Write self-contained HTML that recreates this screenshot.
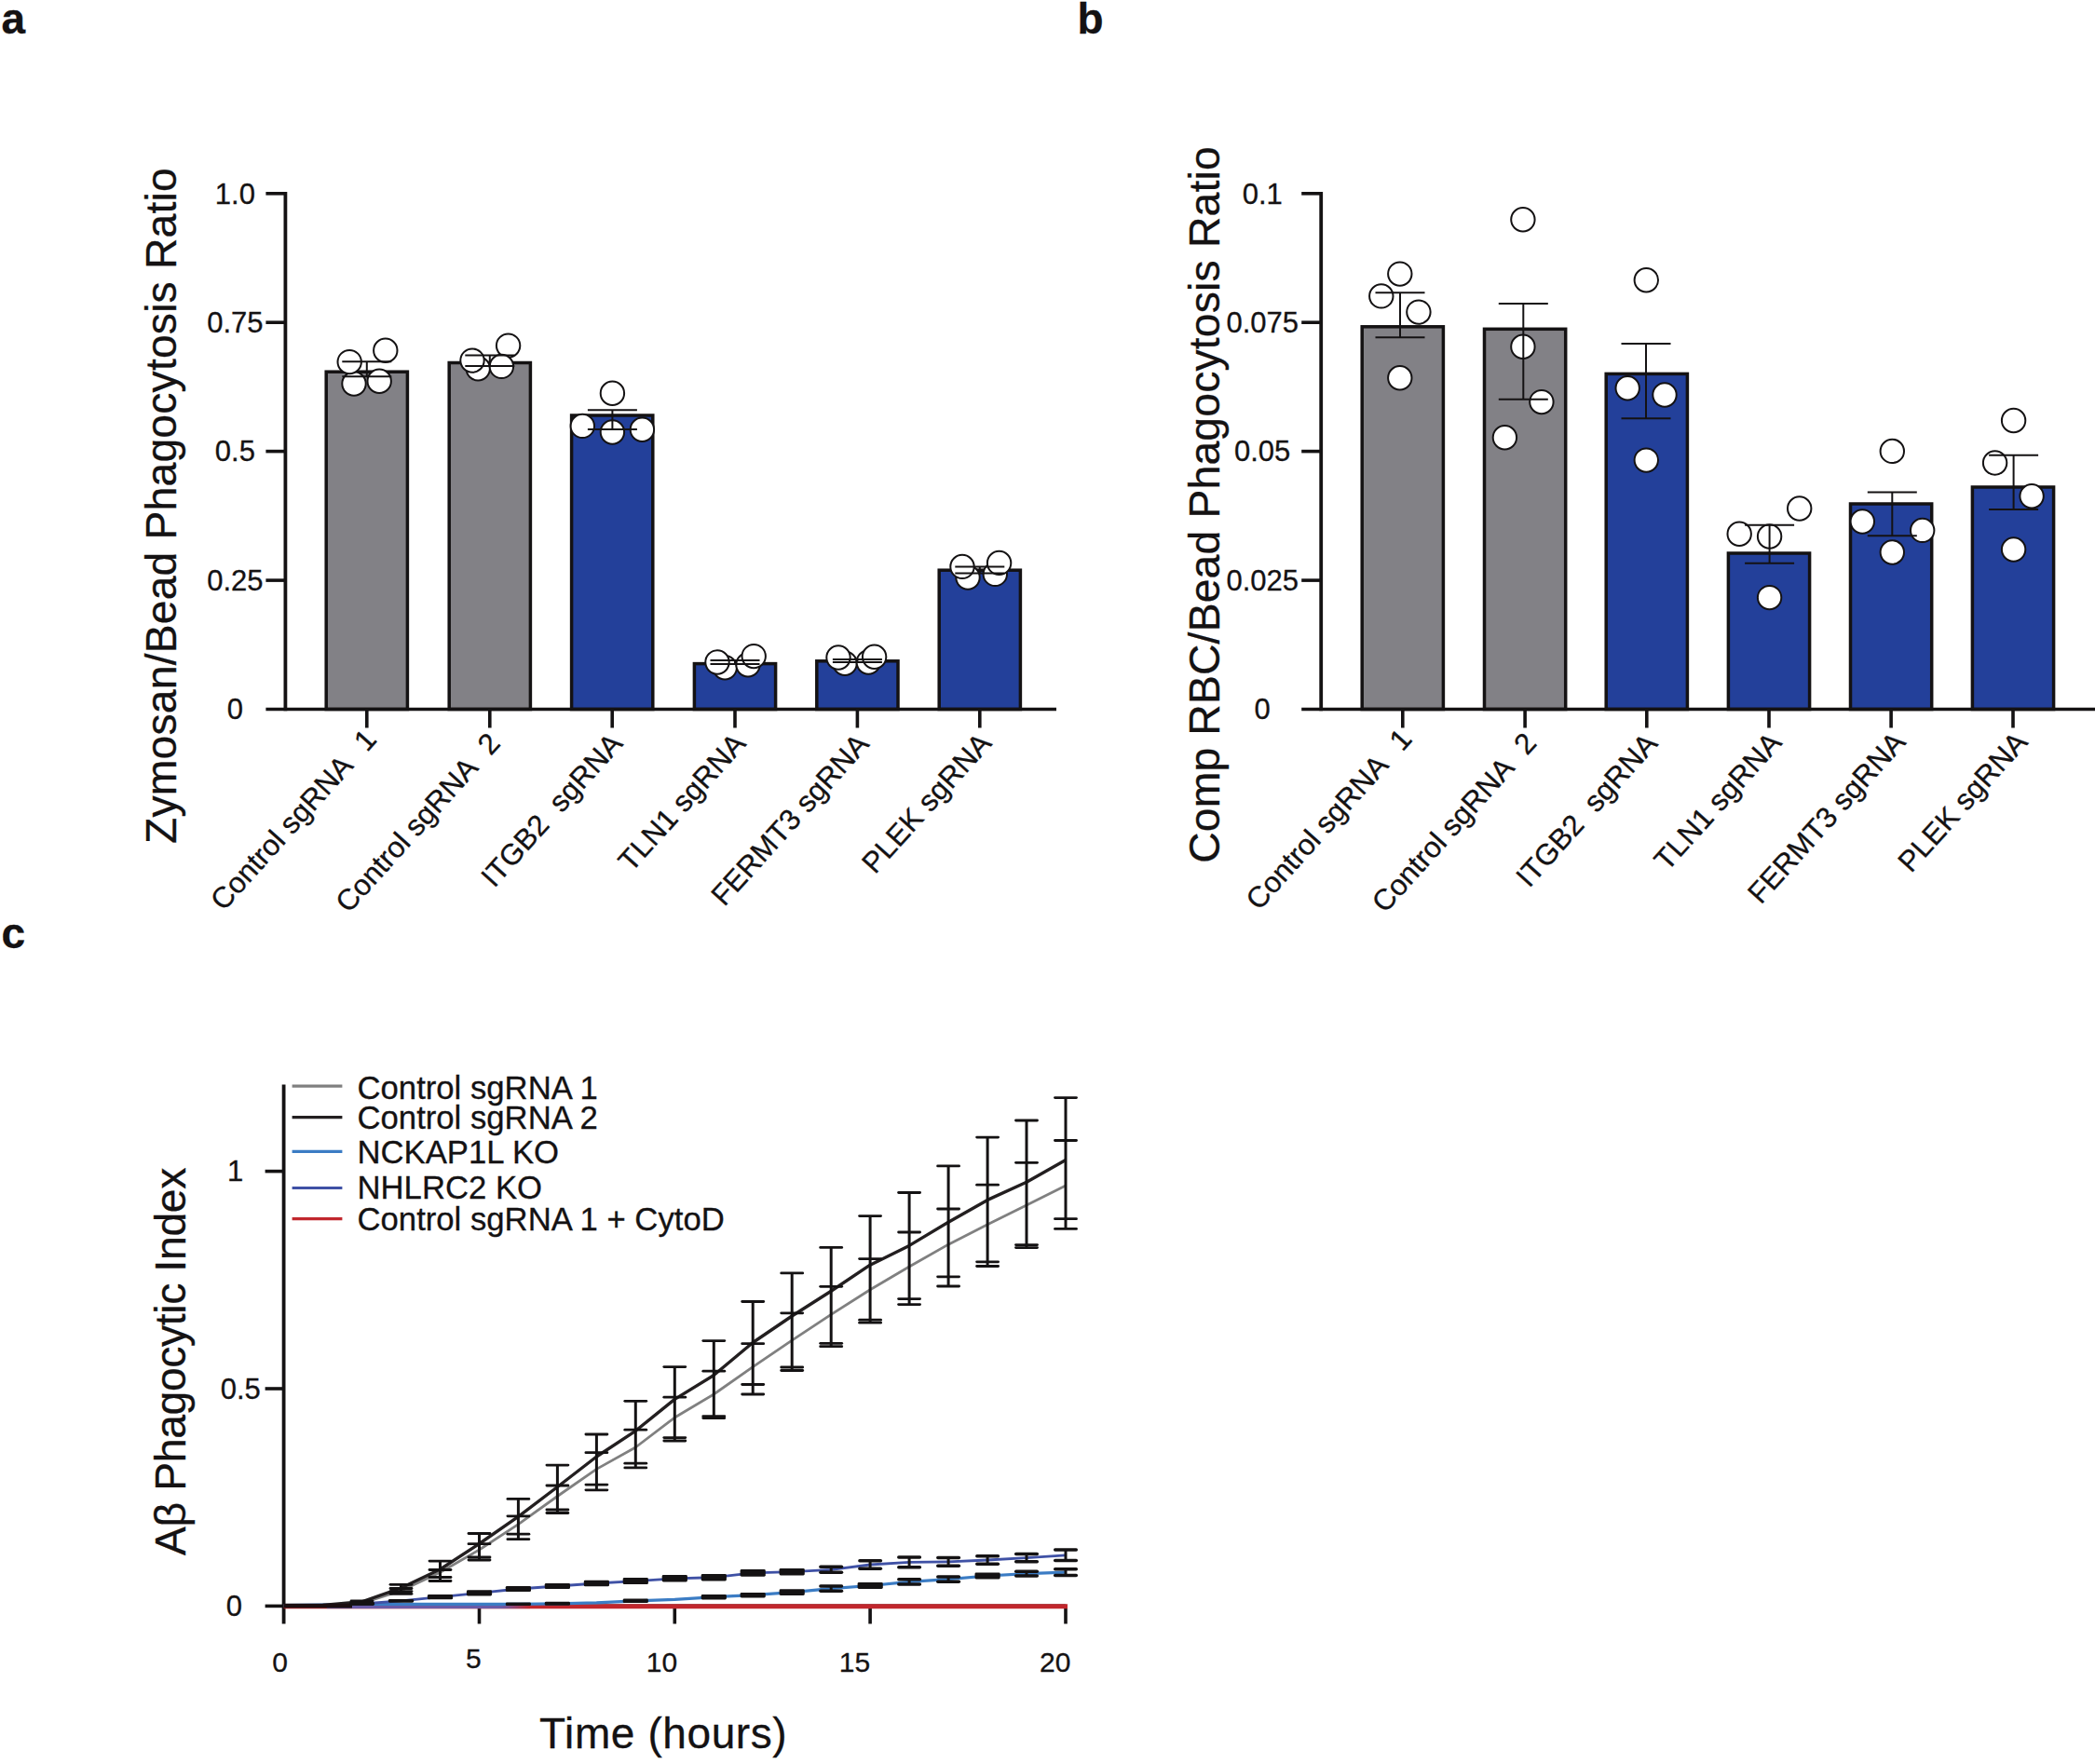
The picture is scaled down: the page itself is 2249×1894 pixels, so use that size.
<!DOCTYPE html>
<html lang="en">
<head>
<meta charset="utf-8">
<title>Phagocytosis figure</title>
<style>
html,body{margin:0;padding:0;background:#fff;}
body{width:2249px;height:1894px;overflow:hidden;}
svg{display:block;}
svg text{font-family:"Liberation Sans", Arial, Helvetica, sans-serif;fill:#141213;stroke:#141213;stroke-width:0.3px;}
</style>
</head>
<body>
<svg width="2249" height="1894" viewBox="0 0 2249 1894">
<rect width="2249" height="1894" fill="#ffffff"/>
<text x="1.5" y="35.5" font-size="46" text-anchor="start" font-weight="bold">a</text>
<text x="1156.5" y="35.5" font-size="46" text-anchor="start" font-weight="bold">b</text>
<text x="1.5" y="1018.0" font-size="46" text-anchor="start" font-weight="bold">c</text>
<rect x="350.2" y="399.2" width="87.2" height="362.3" fill="#828186" stroke="#141213" stroke-width="3.5"/>
<rect x="482.2" y="389.5" width="87.2" height="372.0" fill="#828186" stroke="#141213" stroke-width="3.5"/>
<rect x="613.6" y="446.0" width="87.2" height="315.5" fill="#23409a" stroke="#141213" stroke-width="3.5"/>
<rect x="745.4" y="712.6" width="87.2" height="48.9" fill="#23409a" stroke="#141213" stroke-width="3.5"/>
<rect x="876.8" y="709.8" width="87.2" height="51.7" fill="#23409a" stroke="#141213" stroke-width="3.5"/>
<rect x="1008.2" y="612.2" width="87.2" height="149.3" fill="#23409a" stroke="#141213" stroke-width="3.5"/>
<line x1="306.4" y1="206.0" x2="306.4" y2="763.3" stroke="#141213" stroke-width="3.8" stroke-linecap="butt"/>
<line x1="285.4" y1="761.5" x2="1134.0" y2="761.5" stroke="#141213" stroke-width="3.4" stroke-linecap="butt"/>
<text x="252.4" y="772.2" font-size="31" text-anchor="middle" font-weight="normal">0</text>
<line x1="285.4" y1="623.1" x2="306.4" y2="623.1" stroke="#141213" stroke-width="3.6" stroke-linecap="butt"/>
<text x="252.4" y="633.8" font-size="31" text-anchor="middle" font-weight="normal">0.25</text>
<line x1="285.4" y1="484.6" x2="306.4" y2="484.6" stroke="#141213" stroke-width="3.6" stroke-linecap="butt"/>
<text x="252.4" y="495.3" font-size="31" text-anchor="middle" font-weight="normal">0.5</text>
<line x1="285.4" y1="346.2" x2="306.4" y2="346.2" stroke="#141213" stroke-width="3.6" stroke-linecap="butt"/>
<text x="252.4" y="356.9" font-size="31" text-anchor="middle" font-weight="normal">0.75</text>
<line x1="285.4" y1="207.8" x2="306.4" y2="207.8" stroke="#141213" stroke-width="3.6" stroke-linecap="butt"/>
<text x="252.4" y="218.5" font-size="31" text-anchor="middle" font-weight="normal">1.0</text>
<line x1="393.8" y1="761.5" x2="393.8" y2="781.5" stroke="#141213" stroke-width="3.6" stroke-linecap="butt"/>
<line x1="525.8" y1="761.5" x2="525.8" y2="781.5" stroke="#141213" stroke-width="3.6" stroke-linecap="butt"/>
<line x1="657.2" y1="761.5" x2="657.2" y2="781.5" stroke="#141213" stroke-width="3.6" stroke-linecap="butt"/>
<line x1="789.0" y1="761.5" x2="789.0" y2="781.5" stroke="#141213" stroke-width="3.6" stroke-linecap="butt"/>
<line x1="920.4" y1="761.5" x2="920.4" y2="781.5" stroke="#141213" stroke-width="3.6" stroke-linecap="butt"/>
<line x1="1051.8" y1="761.5" x2="1051.8" y2="781.5" stroke="#141213" stroke-width="3.6" stroke-linecap="butt"/>
<text x="188.5" y="543.0" font-size="46.3" text-anchor="middle" font-weight="normal" transform="rotate(-90 188.5 543.0)" letter-spacing="0.17">Zymosan/Bead Phagocytosis Ratio</text>
<text x="405.8" y="795.1" font-size="31.5" text-anchor="end" font-weight="normal" transform="rotate(-48 405.8 795.1)" xml:space="preserve">Control sgRNA  <tspan dx="4.3">1</tspan></text>
<text x="538.6" y="799.1" font-size="31.5" text-anchor="end" font-weight="normal" transform="rotate(-48 538.6 799.1)" xml:space="preserve">Control sgRNA  <tspan dx="2.2">2</tspan></text>
<text x="669.8" y="799.5" font-size="31.5" text-anchor="end" font-weight="normal" transform="rotate(-48 669.8 799.5)" xml:space="preserve">ITGB2  sgRNA</text>
<text x="802.0" y="799.5" font-size="31.5" text-anchor="end" font-weight="normal" transform="rotate(-48 802.0 799.5)" xml:space="preserve">TLN1 sgRNA</text>
<text x="934.4" y="800.0" font-size="31.5" text-anchor="end" font-weight="normal" transform="rotate(-48 934.4 800.0)" xml:space="preserve">FERMT3 sgRNA</text>
<text x="1065.8" y="799.1" font-size="31.5" text-anchor="end" font-weight="normal" transform="rotate(-48 1065.8 799.1)" xml:space="preserve">PLEK sgRNA</text>
<circle cx="380.0" cy="412.0" r="12.7" fill="#fff" stroke="#141213" stroke-width="2.0"/>
<circle cx="407.2" cy="409.2" r="12.7" fill="#fff" stroke="#141213" stroke-width="2.0"/>
<circle cx="375.2" cy="388.6" r="12.7" fill="#fff" stroke="#141213" stroke-width="2.0"/>
<circle cx="413.8" cy="376.2" r="12.7" fill="#fff" stroke="#141213" stroke-width="2.0"/>
<line x1="393.8" y1="388.3" x2="393.8" y2="404.3" stroke="#141213" stroke-width="2.0" stroke-linecap="butt"/>
<line x1="367.3" y1="388.3" x2="420.3" y2="388.3" stroke="#141213" stroke-width="2.0" stroke-linecap="butt"/>
<line x1="367.3" y1="404.3" x2="420.3" y2="404.3" stroke="#141213" stroke-width="2.0" stroke-linecap="butt"/>
<circle cx="545.6" cy="371.1" r="12.7" fill="#fff" stroke="#141213" stroke-width="2.0"/>
<circle cx="513.2" cy="395.7" r="12.7" fill="#fff" stroke="#141213" stroke-width="2.0"/>
<circle cx="538.4" cy="393.4" r="12.7" fill="#fff" stroke="#141213" stroke-width="2.0"/>
<circle cx="507.0" cy="387.1" r="12.7" fill="#fff" stroke="#141213" stroke-width="2.0"/>
<line x1="525.8" y1="381.4" x2="525.8" y2="392.9" stroke="#141213" stroke-width="2.0" stroke-linecap="butt"/>
<line x1="499.3" y1="381.4" x2="552.3" y2="381.4" stroke="#141213" stroke-width="2.0" stroke-linecap="butt"/>
<line x1="499.3" y1="392.9" x2="552.3" y2="392.9" stroke="#141213" stroke-width="2.0" stroke-linecap="butt"/>
<circle cx="625.3" cy="457.4" r="12.7" fill="#fff" stroke="#141213" stroke-width="2.0"/>
<circle cx="657.4" cy="464.0" r="12.7" fill="#fff" stroke="#141213" stroke-width="2.0"/>
<circle cx="689.4" cy="461.2" r="12.7" fill="#fff" stroke="#141213" stroke-width="2.0"/>
<circle cx="657.4" cy="422.2" r="12.7" fill="#fff" stroke="#141213" stroke-width="2.0"/>
<line x1="657.4" y1="440.3" x2="657.4" y2="461.0" stroke="#141213" stroke-width="2.0" stroke-linecap="butt"/>
<line x1="630.9" y1="440.3" x2="683.9" y2="440.3" stroke="#141213" stroke-width="2.0" stroke-linecap="butt"/>
<line x1="630.9" y1="461.0" x2="683.9" y2="461.0" stroke="#141213" stroke-width="2.0" stroke-linecap="butt"/>
<circle cx="778.2" cy="716.7" r="12.7" fill="#fff" stroke="#141213" stroke-width="2.0"/>
<circle cx="803.0" cy="713.8" r="12.7" fill="#fff" stroke="#141213" stroke-width="2.0"/>
<circle cx="770.0" cy="711.0" r="12.7" fill="#fff" stroke="#141213" stroke-width="2.0"/>
<circle cx="809.2" cy="704.6" r="12.7" fill="#fff" stroke="#141213" stroke-width="2.0"/>
<line x1="789.0" y1="709.0" x2="789.0" y2="713.0" stroke="#141213" stroke-width="2.0" stroke-linecap="butt"/>
<line x1="762.5" y1="709.0" x2="815.5" y2="709.0" stroke="#141213" stroke-width="2.0" stroke-linecap="butt"/>
<line x1="762.5" y1="713.0" x2="815.5" y2="713.0" stroke="#141213" stroke-width="2.0" stroke-linecap="butt"/>
<circle cx="907.0" cy="712.3" r="12.7" fill="#fff" stroke="#141213" stroke-width="2.0"/>
<circle cx="932.3" cy="711.0" r="12.7" fill="#fff" stroke="#141213" stroke-width="2.0"/>
<circle cx="900.0" cy="706.0" r="12.7" fill="#fff" stroke="#141213" stroke-width="2.0"/>
<circle cx="938.6" cy="705.2" r="12.7" fill="#fff" stroke="#141213" stroke-width="2.0"/>
<line x1="920.4" y1="708.0" x2="920.4" y2="711.0" stroke="#141213" stroke-width="2.0" stroke-linecap="butt"/>
<line x1="893.9" y1="708.0" x2="946.9" y2="708.0" stroke="#141213" stroke-width="2.0" stroke-linecap="butt"/>
<line x1="893.9" y1="711.0" x2="946.9" y2="711.0" stroke="#141213" stroke-width="2.0" stroke-linecap="butt"/>
<circle cx="1039.0" cy="620.0" r="12.7" fill="#fff" stroke="#141213" stroke-width="2.0"/>
<circle cx="1068.3" cy="616.4" r="12.7" fill="#fff" stroke="#141213" stroke-width="2.0"/>
<circle cx="1033.0" cy="608.4" r="12.7" fill="#fff" stroke="#141213" stroke-width="2.0"/>
<circle cx="1072.6" cy="604.4" r="12.7" fill="#fff" stroke="#141213" stroke-width="2.0"/>
<line x1="1051.8" y1="608.4" x2="1051.8" y2="615.5" stroke="#141213" stroke-width="2.0" stroke-linecap="butt"/>
<line x1="1025.3" y1="608.4" x2="1078.3" y2="608.4" stroke="#141213" stroke-width="2.0" stroke-linecap="butt"/>
<line x1="1025.3" y1="615.5" x2="1078.3" y2="615.5" stroke="#141213" stroke-width="2.0" stroke-linecap="butt"/>
<rect x="1462.2" y="350.8" width="87.2" height="410.7" fill="#828186" stroke="#141213" stroke-width="3.5"/>
<rect x="1593.5" y="353.3" width="87.2" height="408.2" fill="#828186" stroke="#141213" stroke-width="3.5"/>
<rect x="1724.2" y="401.4" width="87.2" height="360.1" fill="#23409a" stroke="#141213" stroke-width="3.5"/>
<rect x="1855.4" y="594.0" width="87.2" height="167.5" fill="#23409a" stroke="#141213" stroke-width="3.5"/>
<rect x="1986.5" y="541.0" width="87.2" height="220.5" fill="#23409a" stroke="#141213" stroke-width="3.5"/>
<rect x="2117.4" y="523.0" width="87.2" height="238.5" fill="#23409a" stroke="#141213" stroke-width="3.5"/>
<line x1="1418.2" y1="206.0" x2="1418.2" y2="763.3" stroke="#141213" stroke-width="3.8" stroke-linecap="butt"/>
<line x1="1397.2" y1="761.5" x2="2249.0" y2="761.5" stroke="#141213" stroke-width="3.4" stroke-linecap="butt"/>
<text x="1355.2" y="772.2" font-size="31" text-anchor="middle" font-weight="normal">0</text>
<line x1="1397.2" y1="623.1" x2="1418.2" y2="623.1" stroke="#141213" stroke-width="3.6" stroke-linecap="butt"/>
<text x="1355.2" y="633.8" font-size="31" text-anchor="middle" font-weight="normal">0.025</text>
<line x1="1397.2" y1="484.6" x2="1418.2" y2="484.6" stroke="#141213" stroke-width="3.6" stroke-linecap="butt"/>
<text x="1355.2" y="495.3" font-size="31" text-anchor="middle" font-weight="normal">0.05</text>
<line x1="1397.2" y1="346.2" x2="1418.2" y2="346.2" stroke="#141213" stroke-width="3.6" stroke-linecap="butt"/>
<text x="1355.2" y="356.9" font-size="31" text-anchor="middle" font-weight="normal">0.075</text>
<line x1="1397.2" y1="207.8" x2="1418.2" y2="207.8" stroke="#141213" stroke-width="3.6" stroke-linecap="butt"/>
<text x="1355.2" y="218.5" font-size="31" text-anchor="middle" font-weight="normal">0.1</text>
<line x1="1505.8" y1="761.5" x2="1505.8" y2="781.5" stroke="#141213" stroke-width="3.6" stroke-linecap="butt"/>
<line x1="1637.1" y1="761.5" x2="1637.1" y2="781.5" stroke="#141213" stroke-width="3.6" stroke-linecap="butt"/>
<line x1="1767.8" y1="761.5" x2="1767.8" y2="781.5" stroke="#141213" stroke-width="3.6" stroke-linecap="butt"/>
<line x1="1899.0" y1="761.5" x2="1899.0" y2="781.5" stroke="#141213" stroke-width="3.6" stroke-linecap="butt"/>
<line x1="2030.1" y1="761.5" x2="2030.1" y2="781.5" stroke="#141213" stroke-width="3.6" stroke-linecap="butt"/>
<line x1="2161.0" y1="761.5" x2="2161.0" y2="781.5" stroke="#141213" stroke-width="3.6" stroke-linecap="butt"/>
<text x="1309.0" y="542.0" font-size="46.3" text-anchor="middle" font-weight="normal" transform="rotate(-90 1309.0 542.0)" letter-spacing="0.17">Comp RBC/Bead Phagocytosis Ratio</text>
<text x="1517.2" y="794.7" font-size="31.5" text-anchor="end" font-weight="normal" transform="rotate(-48 1517.2 794.7)" xml:space="preserve">Control sgRNA  <tspan dx="4.3">1</tspan></text>
<text x="1651.0" y="799.1" font-size="31.5" text-anchor="end" font-weight="normal" transform="rotate(-48 1651.0 799.1)" xml:space="preserve">Control sgRNA  <tspan dx="2.2">2</tspan></text>
<text x="1780.8" y="799.5" font-size="31.5" text-anchor="end" font-weight="normal" transform="rotate(-48 1780.8 799.5)" xml:space="preserve">ITGB2  sgRNA</text>
<text x="1914.0" y="798.5" font-size="31.5" text-anchor="end" font-weight="normal" transform="rotate(-48 1914.0 798.5)" xml:space="preserve">TLN1 sgRNA</text>
<text x="2047.1" y="797.8" font-size="31.5" text-anchor="end" font-weight="normal" transform="rotate(-48 2047.1 797.8)" xml:space="preserve">FERMT3 sgRNA</text>
<text x="2178.0" y="797.8" font-size="31.5" text-anchor="end" font-weight="normal" transform="rotate(-48 2178.0 797.8)" xml:space="preserve">PLEK sgRNA</text>
<circle cx="1502.8" cy="405.8" r="12.7" fill="#fff" stroke="#141213" stroke-width="2.0"/>
<circle cx="1502.8" cy="294.1" r="12.7" fill="#fff" stroke="#141213" stroke-width="2.0"/>
<circle cx="1482.8" cy="317.9" r="12.7" fill="#fff" stroke="#141213" stroke-width="2.0"/>
<circle cx="1522.9" cy="335.1" r="12.7" fill="#fff" stroke="#141213" stroke-width="2.0"/>
<line x1="1503.0" y1="314.2" x2="1503.0" y2="362.3" stroke="#141213" stroke-width="2.0" stroke-linecap="butt"/>
<line x1="1476.5" y1="314.2" x2="1529.5" y2="314.2" stroke="#141213" stroke-width="2.0" stroke-linecap="butt"/>
<line x1="1476.5" y1="362.3" x2="1529.5" y2="362.3" stroke="#141213" stroke-width="2.0" stroke-linecap="butt"/>
<circle cx="1615.4" cy="469.7" r="12.7" fill="#fff" stroke="#141213" stroke-width="2.0"/>
<circle cx="1634.9" cy="235.7" r="12.7" fill="#fff" stroke="#141213" stroke-width="2.0"/>
<circle cx="1634.9" cy="372.3" r="12.7" fill="#fff" stroke="#141213" stroke-width="2.0"/>
<circle cx="1654.9" cy="431.6" r="12.7" fill="#fff" stroke="#141213" stroke-width="2.0"/>
<line x1="1635.3" y1="325.9" x2="1635.3" y2="428.7" stroke="#141213" stroke-width="2.0" stroke-linecap="butt"/>
<line x1="1608.8" y1="325.9" x2="1661.8" y2="325.9" stroke="#141213" stroke-width="2.0" stroke-linecap="butt"/>
<line x1="1608.8" y1="428.7" x2="1661.8" y2="428.7" stroke="#141213" stroke-width="2.0" stroke-linecap="butt"/>
<circle cx="1767.3" cy="494.1" r="12.7" fill="#fff" stroke="#141213" stroke-width="2.0"/>
<circle cx="1767.3" cy="300.8" r="12.7" fill="#fff" stroke="#141213" stroke-width="2.0"/>
<circle cx="1747.2" cy="416.8" r="12.7" fill="#fff" stroke="#141213" stroke-width="2.0"/>
<circle cx="1787.0" cy="424.0" r="12.7" fill="#fff" stroke="#141213" stroke-width="2.0"/>
<line x1="1767.0" y1="369.0" x2="1767.0" y2="449.2" stroke="#141213" stroke-width="2.0" stroke-linecap="butt"/>
<line x1="1740.5" y1="369.0" x2="1793.5" y2="369.0" stroke="#141213" stroke-width="2.0" stroke-linecap="butt"/>
<line x1="1740.5" y1="449.2" x2="1793.5" y2="449.2" stroke="#141213" stroke-width="2.0" stroke-linecap="butt"/>
<circle cx="1899.6" cy="641.6" r="12.7" fill="#fff" stroke="#141213" stroke-width="2.0"/>
<circle cx="1931.7" cy="546.0" r="12.7" fill="#fff" stroke="#141213" stroke-width="2.0"/>
<circle cx="1867.2" cy="573.2" r="12.7" fill="#fff" stroke="#141213" stroke-width="2.0"/>
<circle cx="1899.6" cy="576.0" r="12.7" fill="#fff" stroke="#141213" stroke-width="2.0"/>
<line x1="1899.6" y1="563.7" x2="1899.6" y2="604.7" stroke="#141213" stroke-width="2.0" stroke-linecap="butt"/>
<line x1="1873.1" y1="563.7" x2="1926.1" y2="563.7" stroke="#141213" stroke-width="2.0" stroke-linecap="butt"/>
<line x1="1873.1" y1="604.7" x2="1926.1" y2="604.7" stroke="#141213" stroke-width="2.0" stroke-linecap="butt"/>
<circle cx="2031.3" cy="593.0" r="12.7" fill="#fff" stroke="#141213" stroke-width="2.0"/>
<circle cx="2031.3" cy="484.4" r="12.7" fill="#fff" stroke="#141213" stroke-width="2.0"/>
<circle cx="1999.3" cy="560.0" r="12.7" fill="#fff" stroke="#141213" stroke-width="2.0"/>
<circle cx="2063.7" cy="569.4" r="12.7" fill="#fff" stroke="#141213" stroke-width="2.0"/>
<line x1="2031.3" y1="528.5" x2="2031.3" y2="575.2" stroke="#141213" stroke-width="2.0" stroke-linecap="butt"/>
<line x1="2004.8" y1="528.5" x2="2057.8" y2="528.5" stroke="#141213" stroke-width="2.0" stroke-linecap="butt"/>
<line x1="2004.8" y1="575.2" x2="2057.8" y2="575.2" stroke="#141213" stroke-width="2.0" stroke-linecap="butt"/>
<circle cx="2161.6" cy="590.0" r="12.7" fill="#fff" stroke="#141213" stroke-width="2.0"/>
<circle cx="2161.6" cy="451.5" r="12.7" fill="#fff" stroke="#141213" stroke-width="2.0"/>
<circle cx="2141.6" cy="497.0" r="12.7" fill="#fff" stroke="#141213" stroke-width="2.0"/>
<circle cx="2181.1" cy="532.8" r="12.7" fill="#fff" stroke="#141213" stroke-width="2.0"/>
<line x1="2161.6" y1="488.7" x2="2161.6" y2="547.1" stroke="#141213" stroke-width="2.0" stroke-linecap="butt"/>
<line x1="2135.1" y1="488.7" x2="2188.1" y2="488.7" stroke="#141213" stroke-width="2.0" stroke-linecap="butt"/>
<line x1="2135.1" y1="547.1" x2="2188.1" y2="547.1" stroke="#141213" stroke-width="2.0" stroke-linecap="butt"/>
<line x1="304.6" y1="1164.6" x2="304.6" y2="1743.5" stroke="#141213" stroke-width="3.8" stroke-linecap="butt"/>
<line x1="284.6" y1="1724.4" x2="304.6" y2="1724.4" stroke="#141213" stroke-width="3.6" stroke-linecap="butt"/>
<text x="251.3" y="1735.1" font-size="31" text-anchor="middle" font-weight="normal">0</text>
<line x1="284.6" y1="1491.0" x2="304.6" y2="1491.0" stroke="#141213" stroke-width="3.6" stroke-linecap="butt"/>
<text x="258.3" y="1501.7" font-size="31" text-anchor="middle" font-weight="normal">0.5</text>
<line x1="284.6" y1="1257.6" x2="304.6" y2="1257.6" stroke="#141213" stroke-width="3.6" stroke-linecap="butt"/>
<text x="252.5" y="1268.3" font-size="31" text-anchor="middle" font-weight="normal">1</text>
<line x1="304.6" y1="1724.4" x2="1144.0" y2="1724.4" stroke="#141213" stroke-width="3.6" stroke-linecap="butt"/>
<line x1="514.5" y1="1724.4" x2="514.5" y2="1743.5" stroke="#141213" stroke-width="3.6" stroke-linecap="butt"/>
<line x1="724.3" y1="1724.4" x2="724.3" y2="1743.5" stroke="#141213" stroke-width="3.6" stroke-linecap="butt"/>
<line x1="934.1" y1="1724.4" x2="934.1" y2="1743.5" stroke="#141213" stroke-width="3.6" stroke-linecap="butt"/>
<line x1="1144.0" y1="1724.4" x2="1144.0" y2="1743.5" stroke="#141213" stroke-width="3.6" stroke-linecap="butt"/>
<text x="300.6" y="1795.2" font-size="30" text-anchor="middle" font-weight="normal">0</text>
<text x="508.4" y="1790.8" font-size="30" text-anchor="middle" font-weight="normal">5</text>
<text x="710.5" y="1795.2" font-size="30" text-anchor="middle" font-weight="normal">10</text>
<text x="917.5" y="1795.2" font-size="30" text-anchor="middle" font-weight="normal">15</text>
<text x="1132.8" y="1795.2" font-size="30" text-anchor="middle" font-weight="normal">20</text>
<text x="712.2" y="1876.6" font-size="46.0" text-anchor="middle" font-weight="normal" letter-spacing="0.6">Time (hours)</text>
<text x="198.5" y="1462.0" font-size="46.3" text-anchor="middle" font-weight="normal" transform="rotate(-90 198.5 1462.0)" letter-spacing="-0.37">Aβ Phagocytic Index</text>
<line x1="313.6" y1="1166.1" x2="367.4" y2="1166.1" stroke="#808080" stroke-width="3.2" stroke-linecap="butt"/>
<text x="383.5" y="1180.0" font-size="34.7" text-anchor="start" font-weight="normal">Control sgRNA 1</text>
<line x1="313.6" y1="1199.6" x2="367.4" y2="1199.6" stroke="#231f20" stroke-width="3.2" stroke-linecap="butt"/>
<text x="383.5" y="1212.0" font-size="34.7" text-anchor="start" font-weight="normal">Control sgRNA 2</text>
<line x1="313.6" y1="1236.3" x2="367.4" y2="1236.3" stroke="#3b7cc4" stroke-width="3.2" stroke-linecap="butt"/>
<text x="383.5" y="1248.6" font-size="34.7" text-anchor="start" font-weight="normal">NCKAP1L KO</text>
<line x1="313.6" y1="1275.5" x2="367.4" y2="1275.5" stroke="#3f51a5" stroke-width="3.2" stroke-linecap="butt"/>
<text x="383.5" y="1287.3" font-size="34.7" text-anchor="start" font-weight="normal">NHLRC2 KO</text>
<line x1="313.6" y1="1308.7" x2="367.4" y2="1308.7" stroke="#c1272d" stroke-width="3.2" stroke-linecap="butt"/>
<text x="383.5" y="1320.8" font-size="34.7" text-anchor="start" font-weight="normal">Control sgRNA 1 + CytoD</text>
<line x1="304.6" y1="1724.7" x2="1146.0" y2="1724.7" stroke="#c1272d" stroke-width="5.0" stroke-linecap="butt"/>
<defs><linearGradient id="pr" x1="0" x2="1" y1="0" y2="0"><stop offset="0" stop-color="#6a5aa6"/><stop offset="0.86" stop-color="#6a5aa6"/><stop offset="1" stop-color="#c1272d"/></linearGradient></defs>
<rect x="350.8" y="1724.0" width="218.2" height="3.1" fill="url(#pr)"/>
<polyline points="304.6,1723.6 346.6,1723.0 388.5,1722.5 430.5,1722.4 472.5,1722.4 514.5,1722.4 556.4,1722.3 598.4,1721.8 640.4,1720.8 682.3,1718.8 724.3,1717.3 766.3,1714.7 808.2,1712.7 850.2,1709.6 892.2,1705.6 934.1,1702.5 976.1,1698.4 1018.1,1695.6 1060.1,1692.0 1102.0,1689.6 1144.0,1688.2" fill="none" stroke="#3b7cc4" stroke-width="3.2" stroke-linejoin="round"/>
<polyline points="304.6,1724.0 346.6,1723.8 388.5,1722.0 430.5,1718.8 472.5,1714.7 514.5,1710.4 556.4,1706.0 598.4,1703.0 640.4,1700.0 682.3,1697.6 724.3,1694.8 766.3,1693.7 808.2,1688.9 850.2,1687.7 892.2,1685.3 934.1,1680.0 976.1,1677.4 1018.1,1676.9 1060.1,1675.0 1102.0,1672.6 1144.0,1669.8" fill="none" stroke="#3f51a5" stroke-width="2.8" stroke-linejoin="round"/>
<polyline points="304.6,1724.0 346.6,1723.8 388.5,1721.5 430.5,1708.0 472.5,1688.2 514.5,1664.0 556.4,1636.7 598.4,1606.5 640.4,1577.4 682.3,1554.0 724.3,1522.0 766.3,1497.0 808.2,1467.6 850.2,1439.2 892.2,1411.4 934.1,1384.8 976.1,1360.0 1018.1,1336.2 1060.1,1314.7 1102.0,1293.9 1144.0,1272.9" fill="none" stroke="#808080" stroke-width="2.8" stroke-linejoin="round"/>
<polyline points="304.6,1724.0 346.6,1723.4 388.5,1719.8 430.5,1705.0 472.5,1685.0 514.5,1657.5 556.4,1628.3 598.4,1596.5 640.4,1564.0 682.3,1536.3 724.3,1502.4 766.3,1476.5 808.2,1441.5 850.2,1413.0 892.2,1386.2 934.1,1358.2 976.1,1337.4 1018.1,1312.3 1060.1,1288.4 1102.0,1269.3 1144.0,1245.5" fill="none" stroke="#231f20" stroke-width="3.4" stroke-linejoin="round"/>
<line x1="304.6" y1="1724.2" x2="378.0" y2="1724.2" stroke="#1c0f11" stroke-width="4.8" stroke-linecap="butt"/>
<line x1="388.5" y1="1718.8" x2="388.5" y2="1722.4" stroke="#141213" stroke-width="3.0" stroke-linecap="butt"/>
<line x1="377.0" y1="1718.8" x2="400.0" y2="1718.8" stroke="#141213" stroke-width="2.8" stroke-linecap="round"/>
<line x1="377.0" y1="1720.6" x2="400.0" y2="1720.6" stroke="#141213" stroke-width="2.8" stroke-linecap="round"/>
<line x1="377.0" y1="1722.4" x2="400.0" y2="1722.4" stroke="#141213" stroke-width="2.8" stroke-linecap="round"/>
<line x1="430.5" y1="1701.3" x2="430.5" y2="1711.3" stroke="#141213" stroke-width="3.0" stroke-linecap="butt"/>
<line x1="419.0" y1="1701.3" x2="442.0" y2="1701.3" stroke="#141213" stroke-width="2.8" stroke-linecap="round"/>
<line x1="419.0" y1="1705.5" x2="442.0" y2="1705.5" stroke="#141213" stroke-width="2.8" stroke-linecap="round"/>
<line x1="419.0" y1="1708.6" x2="442.0" y2="1708.6" stroke="#141213" stroke-width="2.8" stroke-linecap="round"/>
<line x1="419.0" y1="1711.3" x2="442.0" y2="1711.3" stroke="#141213" stroke-width="2.8" stroke-linecap="round"/>
<line x1="472.5" y1="1676.1" x2="472.5" y2="1697.5" stroke="#141213" stroke-width="3.0" stroke-linecap="butt"/>
<line x1="461.0" y1="1676.1" x2="484.0" y2="1676.1" stroke="#141213" stroke-width="2.8" stroke-linecap="round"/>
<line x1="461.0" y1="1685.5" x2="484.0" y2="1685.5" stroke="#141213" stroke-width="2.8" stroke-linecap="round"/>
<line x1="461.0" y1="1693.5" x2="484.0" y2="1693.5" stroke="#141213" stroke-width="2.8" stroke-linecap="round"/>
<line x1="461.0" y1="1697.5" x2="484.0" y2="1697.5" stroke="#141213" stroke-width="2.8" stroke-linecap="round"/>
<line x1="514.5" y1="1646.5" x2="514.5" y2="1675.0" stroke="#141213" stroke-width="3.0" stroke-linecap="butt"/>
<line x1="503.0" y1="1646.5" x2="526.0" y2="1646.5" stroke="#141213" stroke-width="2.8" stroke-linecap="round"/>
<line x1="503.0" y1="1657.7" x2="526.0" y2="1657.7" stroke="#141213" stroke-width="2.8" stroke-linecap="round"/>
<line x1="503.0" y1="1672.0" x2="526.0" y2="1672.0" stroke="#141213" stroke-width="2.8" stroke-linecap="round"/>
<line x1="503.0" y1="1675.0" x2="526.0" y2="1675.0" stroke="#141213" stroke-width="2.8" stroke-linecap="round"/>
<line x1="556.4" y1="1609.4" x2="556.4" y2="1652.7" stroke="#141213" stroke-width="3.0" stroke-linecap="butt"/>
<line x1="544.9" y1="1609.4" x2="567.9" y2="1609.4" stroke="#141213" stroke-width="2.8" stroke-linecap="round"/>
<line x1="544.9" y1="1627.8" x2="567.9" y2="1627.8" stroke="#141213" stroke-width="2.8" stroke-linecap="round"/>
<line x1="544.9" y1="1647.2" x2="567.9" y2="1647.2" stroke="#141213" stroke-width="2.8" stroke-linecap="round"/>
<line x1="544.9" y1="1652.7" x2="567.9" y2="1652.7" stroke="#141213" stroke-width="2.8" stroke-linecap="round"/>
<line x1="598.4" y1="1573.1" x2="598.4" y2="1624.5" stroke="#141213" stroke-width="3.0" stroke-linecap="butt"/>
<line x1="586.9" y1="1573.1" x2="609.9" y2="1573.1" stroke="#141213" stroke-width="2.8" stroke-linecap="round"/>
<line x1="586.9" y1="1595.0" x2="609.9" y2="1595.0" stroke="#141213" stroke-width="2.8" stroke-linecap="round"/>
<line x1="586.9" y1="1621.0" x2="609.9" y2="1621.0" stroke="#141213" stroke-width="2.8" stroke-linecap="round"/>
<line x1="586.9" y1="1624.5" x2="609.9" y2="1624.5" stroke="#141213" stroke-width="2.8" stroke-linecap="round"/>
<line x1="640.4" y1="1540.0" x2="640.4" y2="1599.8" stroke="#141213" stroke-width="3.0" stroke-linecap="butt"/>
<line x1="628.9" y1="1540.0" x2="651.9" y2="1540.0" stroke="#141213" stroke-width="2.8" stroke-linecap="round"/>
<line x1="628.9" y1="1559.7" x2="651.9" y2="1559.7" stroke="#141213" stroke-width="2.8" stroke-linecap="round"/>
<line x1="628.9" y1="1594.1" x2="651.9" y2="1594.1" stroke="#141213" stroke-width="2.8" stroke-linecap="round"/>
<line x1="628.9" y1="1599.8" x2="651.9" y2="1599.8" stroke="#141213" stroke-width="2.8" stroke-linecap="round"/>
<line x1="682.3" y1="1504.3" x2="682.3" y2="1575.9" stroke="#141213" stroke-width="3.0" stroke-linecap="butt"/>
<line x1="670.8" y1="1504.3" x2="693.8" y2="1504.3" stroke="#141213" stroke-width="2.8" stroke-linecap="round"/>
<line x1="670.8" y1="1535.2" x2="693.8" y2="1535.2" stroke="#141213" stroke-width="2.8" stroke-linecap="round"/>
<line x1="670.8" y1="1571.2" x2="693.8" y2="1571.2" stroke="#141213" stroke-width="2.8" stroke-linecap="round"/>
<line x1="670.8" y1="1575.9" x2="693.8" y2="1575.9" stroke="#141213" stroke-width="2.8" stroke-linecap="round"/>
<line x1="724.3" y1="1467.6" x2="724.3" y2="1547.0" stroke="#141213" stroke-width="3.0" stroke-linecap="butt"/>
<line x1="712.8" y1="1467.6" x2="735.8" y2="1467.6" stroke="#141213" stroke-width="2.8" stroke-linecap="round"/>
<line x1="712.8" y1="1500.2" x2="735.8" y2="1500.2" stroke="#141213" stroke-width="2.8" stroke-linecap="round"/>
<line x1="712.8" y1="1543.6" x2="735.8" y2="1543.6" stroke="#141213" stroke-width="2.8" stroke-linecap="round"/>
<line x1="712.8" y1="1547.0" x2="735.8" y2="1547.0" stroke="#141213" stroke-width="2.8" stroke-linecap="round"/>
<line x1="766.3" y1="1439.6" x2="766.3" y2="1522.6" stroke="#141213" stroke-width="3.0" stroke-linecap="butt"/>
<line x1="754.8" y1="1439.6" x2="777.8" y2="1439.6" stroke="#141213" stroke-width="2.8" stroke-linecap="round"/>
<line x1="754.8" y1="1472.2" x2="777.8" y2="1472.2" stroke="#141213" stroke-width="2.8" stroke-linecap="round"/>
<line x1="754.8" y1="1520.6" x2="777.8" y2="1520.6" stroke="#141213" stroke-width="2.8" stroke-linecap="round"/>
<line x1="754.8" y1="1522.6" x2="777.8" y2="1522.6" stroke="#141213" stroke-width="2.8" stroke-linecap="round"/>
<line x1="808.2" y1="1397.5" x2="808.2" y2="1497.0" stroke="#141213" stroke-width="3.0" stroke-linecap="butt"/>
<line x1="796.7" y1="1397.5" x2="819.7" y2="1397.5" stroke="#141213" stroke-width="2.8" stroke-linecap="round"/>
<line x1="796.7" y1="1442.7" x2="819.7" y2="1442.7" stroke="#141213" stroke-width="2.8" stroke-linecap="round"/>
<line x1="796.7" y1="1486.5" x2="819.7" y2="1486.5" stroke="#141213" stroke-width="2.8" stroke-linecap="round"/>
<line x1="796.7" y1="1497.0" x2="819.7" y2="1497.0" stroke="#141213" stroke-width="2.8" stroke-linecap="round"/>
<line x1="850.2" y1="1366.9" x2="850.2" y2="1471.5" stroke="#141213" stroke-width="3.0" stroke-linecap="butt"/>
<line x1="838.7" y1="1366.9" x2="861.7" y2="1366.9" stroke="#141213" stroke-width="2.8" stroke-linecap="round"/>
<line x1="838.7" y1="1409.8" x2="861.7" y2="1409.8" stroke="#141213" stroke-width="2.8" stroke-linecap="round"/>
<line x1="838.7" y1="1468.0" x2="861.7" y2="1468.0" stroke="#141213" stroke-width="2.8" stroke-linecap="round"/>
<line x1="838.7" y1="1471.5" x2="861.7" y2="1471.5" stroke="#141213" stroke-width="2.8" stroke-linecap="round"/>
<line x1="892.2" y1="1339.4" x2="892.2" y2="1445.7" stroke="#141213" stroke-width="3.0" stroke-linecap="butt"/>
<line x1="880.7" y1="1339.4" x2="903.7" y2="1339.4" stroke="#141213" stroke-width="2.8" stroke-linecap="round"/>
<line x1="880.7" y1="1381.3" x2="903.7" y2="1381.3" stroke="#141213" stroke-width="2.8" stroke-linecap="round"/>
<line x1="880.7" y1="1442.3" x2="903.7" y2="1442.3" stroke="#141213" stroke-width="2.8" stroke-linecap="round"/>
<line x1="880.7" y1="1445.7" x2="903.7" y2="1445.7" stroke="#141213" stroke-width="2.8" stroke-linecap="round"/>
<line x1="934.1" y1="1305.6" x2="934.1" y2="1420.2" stroke="#141213" stroke-width="3.0" stroke-linecap="butt"/>
<line x1="922.6" y1="1305.6" x2="945.6" y2="1305.6" stroke="#141213" stroke-width="2.8" stroke-linecap="round"/>
<line x1="922.6" y1="1351.6" x2="945.6" y2="1351.6" stroke="#141213" stroke-width="2.8" stroke-linecap="round"/>
<line x1="922.6" y1="1417.2" x2="945.6" y2="1417.2" stroke="#141213" stroke-width="2.8" stroke-linecap="round"/>
<line x1="922.6" y1="1420.2" x2="945.6" y2="1420.2" stroke="#141213" stroke-width="2.8" stroke-linecap="round"/>
<line x1="976.1" y1="1280.5" x2="976.1" y2="1400.6" stroke="#141213" stroke-width="3.0" stroke-linecap="butt"/>
<line x1="964.6" y1="1280.5" x2="987.6" y2="1280.5" stroke="#141213" stroke-width="2.8" stroke-linecap="round"/>
<line x1="964.6" y1="1323.0" x2="987.6" y2="1323.0" stroke="#141213" stroke-width="2.8" stroke-linecap="round"/>
<line x1="964.6" y1="1394.6" x2="987.6" y2="1394.6" stroke="#141213" stroke-width="2.8" stroke-linecap="round"/>
<line x1="964.6" y1="1400.6" x2="987.6" y2="1400.6" stroke="#141213" stroke-width="2.8" stroke-linecap="round"/>
<line x1="1018.1" y1="1251.9" x2="1018.1" y2="1381.0" stroke="#141213" stroke-width="3.0" stroke-linecap="butt"/>
<line x1="1006.6" y1="1251.9" x2="1029.6" y2="1251.9" stroke="#141213" stroke-width="2.8" stroke-linecap="round"/>
<line x1="1006.6" y1="1298.0" x2="1029.6" y2="1298.0" stroke="#141213" stroke-width="2.8" stroke-linecap="round"/>
<line x1="1006.6" y1="1370.8" x2="1029.6" y2="1370.8" stroke="#141213" stroke-width="2.8" stroke-linecap="round"/>
<line x1="1006.6" y1="1381.0" x2="1029.6" y2="1381.0" stroke="#141213" stroke-width="2.8" stroke-linecap="round"/>
<line x1="1060.1" y1="1221.1" x2="1060.1" y2="1359.5" stroke="#141213" stroke-width="3.0" stroke-linecap="butt"/>
<line x1="1048.6" y1="1221.1" x2="1071.6" y2="1221.1" stroke="#141213" stroke-width="2.8" stroke-linecap="round"/>
<line x1="1048.6" y1="1272.2" x2="1071.6" y2="1272.2" stroke="#141213" stroke-width="2.8" stroke-linecap="round"/>
<line x1="1048.6" y1="1354.8" x2="1071.6" y2="1354.8" stroke="#141213" stroke-width="2.8" stroke-linecap="round"/>
<line x1="1048.6" y1="1359.5" x2="1071.6" y2="1359.5" stroke="#141213" stroke-width="2.8" stroke-linecap="round"/>
<line x1="1102.0" y1="1203.0" x2="1102.0" y2="1339.6" stroke="#141213" stroke-width="3.0" stroke-linecap="butt"/>
<line x1="1090.5" y1="1203.0" x2="1113.5" y2="1203.0" stroke="#141213" stroke-width="2.8" stroke-linecap="round"/>
<line x1="1090.5" y1="1248.3" x2="1113.5" y2="1248.3" stroke="#141213" stroke-width="2.8" stroke-linecap="round"/>
<line x1="1090.5" y1="1336.6" x2="1113.5" y2="1336.6" stroke="#141213" stroke-width="2.8" stroke-linecap="round"/>
<line x1="1090.5" y1="1339.6" x2="1113.5" y2="1339.6" stroke="#141213" stroke-width="2.8" stroke-linecap="round"/>
<line x1="1144.0" y1="1178.6" x2="1144.0" y2="1319.4" stroke="#141213" stroke-width="3.0" stroke-linecap="butt"/>
<line x1="1132.5" y1="1178.6" x2="1155.5" y2="1178.6" stroke="#141213" stroke-width="2.8" stroke-linecap="round"/>
<line x1="1132.5" y1="1224.5" x2="1155.5" y2="1224.5" stroke="#141213" stroke-width="2.8" stroke-linecap="round"/>
<line x1="1132.5" y1="1308.7" x2="1155.5" y2="1308.7" stroke="#141213" stroke-width="2.8" stroke-linecap="round"/>
<line x1="1132.5" y1="1319.4" x2="1155.5" y2="1319.4" stroke="#141213" stroke-width="2.8" stroke-linecap="round"/>
<rect x="374.9" y="1720.3" width="27.2" height="3.4" rx="1.4" fill="#141213"/>
<rect x="416.9" y="1716.9" width="27.2" height="3.8" rx="1.4" fill="#141213"/>
<rect x="458.9" y="1712.1" width="27.2" height="5.2" rx="1.4" fill="#141213"/>
<rect x="500.9" y="1707.3" width="27.2" height="6.2" rx="1.4" fill="#141213"/>
<rect x="542.8" y="1702.9" width="27.2" height="6.2" rx="1.4" fill="#141213"/>
<rect x="584.8" y="1699.9" width="27.2" height="6.2" rx="1.4" fill="#141213"/>
<rect x="626.8" y="1696.7" width="27.2" height="6.6" rx="1.4" fill="#141213"/>
<rect x="668.7" y="1694.1" width="27.2" height="7.0" rx="1.4" fill="#141213"/>
<rect x="710.7" y="1691.1" width="27.2" height="7.4" rx="1.4" fill="#141213"/>
<rect x="752.7" y="1690.0" width="27.2" height="7.4" rx="1.4" fill="#141213"/>
<rect x="794.6" y="1685.1" width="27.2" height="7.6" rx="1.4" fill="#141213"/>
<rect x="836.6" y="1683.9" width="27.2" height="7.6" rx="1.4" fill="#141213"/>
<line x1="892.2" y1="1682.3" x2="892.2" y2="1688.3" stroke="#141213" stroke-width="3.0" stroke-linecap="butt"/>
<line x1="880.9" y1="1682.3" x2="903.5" y2="1682.3" stroke="#141213" stroke-width="3.5" stroke-linecap="round"/>
<line x1="880.9" y1="1688.3" x2="903.5" y2="1688.3" stroke="#141213" stroke-width="3.5" stroke-linecap="round"/>
<line x1="934.1" y1="1675.8" x2="934.1" y2="1684.2" stroke="#141213" stroke-width="3.0" stroke-linecap="butt"/>
<line x1="922.9" y1="1675.8" x2="945.4" y2="1675.8" stroke="#141213" stroke-width="3.5" stroke-linecap="round"/>
<line x1="922.9" y1="1684.2" x2="945.4" y2="1684.2" stroke="#141213" stroke-width="3.5" stroke-linecap="round"/>
<line x1="976.1" y1="1672.1" x2="976.1" y2="1682.7" stroke="#141213" stroke-width="3.0" stroke-linecap="butt"/>
<line x1="964.8" y1="1672.1" x2="987.4" y2="1672.1" stroke="#141213" stroke-width="3.5" stroke-linecap="round"/>
<line x1="964.8" y1="1682.7" x2="987.4" y2="1682.7" stroke="#141213" stroke-width="3.5" stroke-linecap="round"/>
<line x1="1018.1" y1="1672.5" x2="1018.1" y2="1681.3" stroke="#141213" stroke-width="3.0" stroke-linecap="butt"/>
<line x1="1006.8" y1="1672.5" x2="1029.4" y2="1672.5" stroke="#141213" stroke-width="3.5" stroke-linecap="round"/>
<line x1="1006.8" y1="1681.3" x2="1029.4" y2="1681.3" stroke="#141213" stroke-width="3.5" stroke-linecap="round"/>
<line x1="1060.1" y1="1670.8" x2="1060.1" y2="1679.2" stroke="#141213" stroke-width="3.0" stroke-linecap="butt"/>
<line x1="1048.8" y1="1670.8" x2="1071.4" y2="1670.8" stroke="#141213" stroke-width="3.5" stroke-linecap="round"/>
<line x1="1048.8" y1="1679.2" x2="1071.4" y2="1679.2" stroke="#141213" stroke-width="3.5" stroke-linecap="round"/>
<line x1="1102.0" y1="1668.4" x2="1102.0" y2="1676.8" stroke="#141213" stroke-width="3.0" stroke-linecap="butt"/>
<line x1="1090.7" y1="1668.4" x2="1113.3" y2="1668.4" stroke="#141213" stroke-width="3.5" stroke-linecap="round"/>
<line x1="1090.7" y1="1676.8" x2="1113.3" y2="1676.8" stroke="#141213" stroke-width="3.5" stroke-linecap="round"/>
<line x1="1144.0" y1="1664.1" x2="1144.0" y2="1675.5" stroke="#141213" stroke-width="3.0" stroke-linecap="butt"/>
<line x1="1132.7" y1="1664.1" x2="1155.3" y2="1664.1" stroke="#141213" stroke-width="3.5" stroke-linecap="round"/>
<line x1="1132.7" y1="1675.5" x2="1155.3" y2="1675.5" stroke="#141213" stroke-width="3.5" stroke-linecap="round"/>
<rect x="542.8" y="1720.5" width="27.2" height="3.6" rx="1.4" fill="#141213"/>
<rect x="584.8" y="1719.8" width="27.2" height="4.0" rx="1.4" fill="#141213"/>
<rect x="668.7" y="1716.5" width="27.2" height="4.6" rx="1.4" fill="#141213"/>
<rect x="752.7" y="1712.0" width="27.2" height="5.4" rx="1.4" fill="#141213"/>
<rect x="794.6" y="1710.0" width="27.2" height="5.4" rx="1.4" fill="#141213"/>
<rect x="836.6" y="1706.3" width="27.2" height="6.6" rx="1.4" fill="#141213"/>
<line x1="892.2" y1="1703.0" x2="892.2" y2="1708.2" stroke="#141213" stroke-width="3.0" stroke-linecap="butt"/>
<line x1="880.9" y1="1703.0" x2="903.5" y2="1703.0" stroke="#141213" stroke-width="3.5" stroke-linecap="round"/>
<line x1="880.9" y1="1708.2" x2="903.5" y2="1708.2" stroke="#141213" stroke-width="3.5" stroke-linecap="round"/>
<rect x="920.6" y="1699.0" width="27.2" height="7.0" rx="1.4" fill="#141213"/>
<line x1="976.1" y1="1695.8" x2="976.1" y2="1701.0" stroke="#141213" stroke-width="3.0" stroke-linecap="butt"/>
<line x1="964.8" y1="1695.8" x2="987.4" y2="1695.8" stroke="#141213" stroke-width="3.5" stroke-linecap="round"/>
<line x1="964.8" y1="1701.0" x2="987.4" y2="1701.0" stroke="#141213" stroke-width="3.5" stroke-linecap="round"/>
<line x1="1018.1" y1="1693.0" x2="1018.1" y2="1698.2" stroke="#141213" stroke-width="3.0" stroke-linecap="butt"/>
<line x1="1006.8" y1="1693.0" x2="1029.4" y2="1693.0" stroke="#141213" stroke-width="3.5" stroke-linecap="round"/>
<line x1="1006.8" y1="1698.2" x2="1029.4" y2="1698.2" stroke="#141213" stroke-width="3.5" stroke-linecap="round"/>
<rect x="1046.5" y="1688.5" width="27.2" height="7.0" rx="1.4" fill="#141213"/>
<line x1="1102.0" y1="1687.2" x2="1102.0" y2="1692.0" stroke="#141213" stroke-width="3.0" stroke-linecap="butt"/>
<line x1="1090.7" y1="1687.2" x2="1113.3" y2="1687.2" stroke="#141213" stroke-width="3.5" stroke-linecap="round"/>
<line x1="1090.7" y1="1692.0" x2="1113.3" y2="1692.0" stroke="#141213" stroke-width="3.5" stroke-linecap="round"/>
<line x1="1144.0" y1="1684.8" x2="1144.0" y2="1691.6" stroke="#141213" stroke-width="3.0" stroke-linecap="butt"/>
<line x1="1132.7" y1="1684.8" x2="1155.3" y2="1684.8" stroke="#141213" stroke-width="3.5" stroke-linecap="round"/>
<line x1="1132.7" y1="1691.6" x2="1155.3" y2="1691.6" stroke="#141213" stroke-width="3.5" stroke-linecap="round"/>
</svg>
</body>
</html>
